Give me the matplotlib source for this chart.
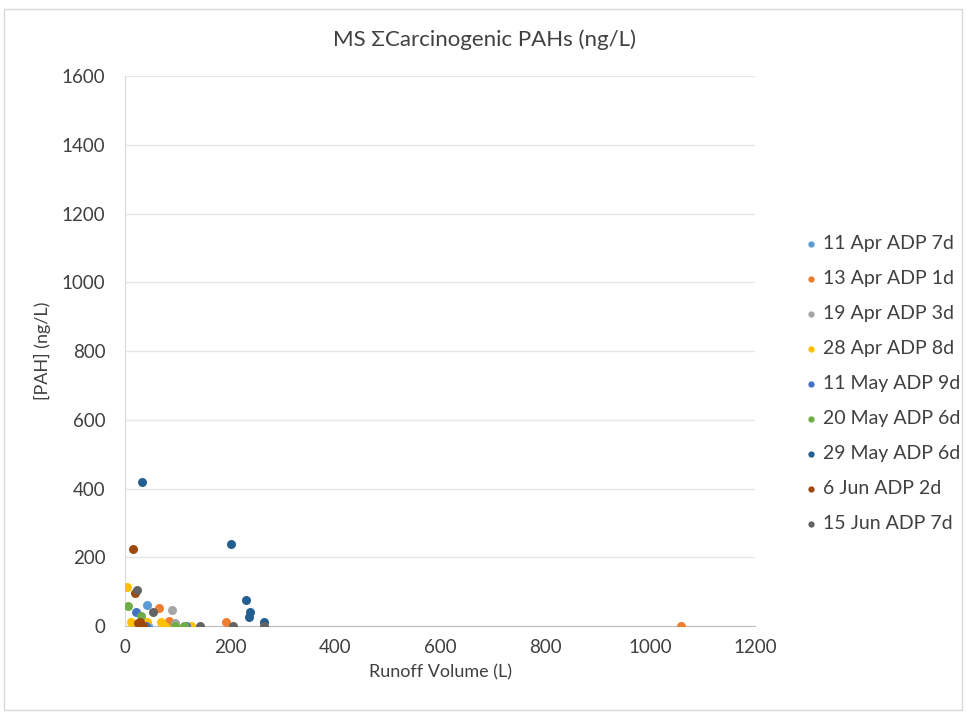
import matplotlib
matplotlib.use("agg")
import matplotlib.pyplot as plt
from matplotlib.patches import Rectangle

plt.rcParams["font.family"] = ["Lato", "DejaVu Sans"]

# (label, colour, runoff volume L, PAH ng/L)
series_labels = ["11 Apr ADP 7d", "13 Apr ADP 1d", "19 Apr ADP 3d", "28 Apr ADP 8d",
                 "11 May ADP 9d", "20 May ADP 6d", "29 May ADP 6d", "6 Jun ADP 2d",
                 "15 Jun ADP 7d"]
series_colors = ["#5B9BD5", "#ED7D31", "#A5A5A5", "#FFC000", "#4472C4",
                 "#70AD47", "#255E91", "#9E480E", "#636363"]

apr11_x = [41, 44]
apr11_y = [60, 0]
apr13_x = [64, 83, 192, 1059]
apr13_y = [51, 16, 12, 0]
apr19_x = [89, 95]
apr19_y = [47, 10]
apr28_x = [4.5, 11, 42, 68, 76, 125]
apr28_y = [114, 12, 12, 12, 0, 0]
may11_x = [21, 40, 117]
may11_y = [41, 0, 0]
may20_x = [6, 31, 96, 113]
may20_y = [57, 30, 0, 0]
may29_x = [32, 202, 230, 238, 236, 265]
may29_y = [420, 240, 77, 41, 27, 13]
jun6_x = [15, 19, 25, 28, 31, 34]
jun6_y = [225, 96, 10, 12, 3, 0]
jun15_x = [23, 53, 142, 206, 265]
jun15_y = [104, 41, 0, 0, 0]

xs = [apr11_x, apr13_x, apr19_x, apr28_x, may11_x, may20_x, may29_x, jun6_x, jun15_x]
ys = [apr11_y, apr13_y, apr19_y, apr28_y, may11_y, may20_y, may29_y, jun6_y, jun15_y]

fig = plt.figure(figsize=(9.66, 7.13), dpi=100)
fig.patches.append(Rectangle((0.004, 0.004), 0.992, 0.983, transform=fig.transFigure,
                             fill=False, edgecolor="#D9D9D9", linewidth=1))
ax = fig.add_axes([0.1294, 0.122, 0.6522, 0.7714])

for lab, col, x, y in zip(series_labels, series_colors, xs, ys):
    ax.scatter(x, y, s=42, color=col, label=lab, linewidths=0, zorder=3)

ax.set_xlim(0, 1200)
ax.set_ylim(0, 1600)
ax.set_xticks(range(0, 1201, 200))
ax.set_yticks(range(0, 1601, 200))
ax.grid(axis="y", color="#E6E6E6", linewidth=1)
ax.set_axisbelow(True)
for s in ["top", "right"]:
    ax.spines[s].set_visible(False)
ax.spines["left"].set_color("#D9D9D9")
ax.spines["bottom"].set_color("#BFBFBF")
ax.tick_params(length=0, labelsize=13.5, colors="#404040")
ax.tick_params(axis="y", pad=14)
ax.tick_params(axis="x", pad=9)

ax.set_xlabel("Runoff Volume (L)", fontsize=13, color="#404040", labelpad=6)
ax.set_ylabel("[PAH] (ng/L)", fontsize=13, color="#404040", labelpad=8)
fig.text(0.502, 0.944, "MS \u03a3Carcinogenic PAHs (ng/L)", ha="center", va="center",
         fontsize=16, color="#404040")

fig.legend(loc="center left", bbox_to_anchor=(0.82, 0.462), frameon=False,
           fontsize=14, labelcolor="#404040", handletextpad=0.1, labelspacing=0.93,
           markerscale=0.7, handlelength=1.1, borderaxespad=0)

fig.savefig("out.png", dpi=100)
